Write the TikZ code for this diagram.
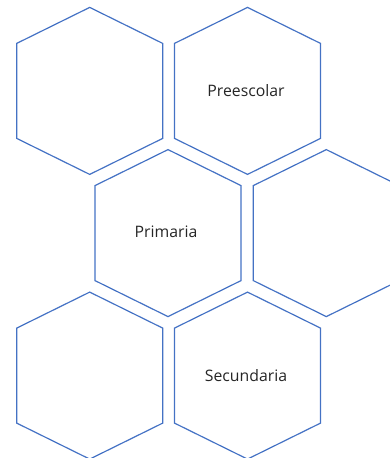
\documentclass[tikz,border=0pt]{standalone}
\usepackage{fontspec}
\setmainfont{Open Sans}
\usepackage{xcolor}
\usetikzlibrary{calc}
\definecolor{hexblue}{HTML}{4472C4}

\begin{document}
\begin{tikzpicture}[x=1pt, y=-1pt,
    hexline/.style={draw=hexblue, line width=1.2pt, line join=miter},
    hexlabel/.style={font=\fontsize{15.8}{18}\selectfont, text=black!85}]
  \clip (0,0) rectangle (390,458);
  % cell centres
  \coordinate (C1) at (89.7,90.8);
  \coordinate (C2) at (247.5,90.8);
  \coordinate (C3) at (168,233);
  \coordinate (C4) at (326.3,233);
  \coordinate (C5) at (89.7,375.5);
  \coordinate (C6) at (247.5,375.5);
  \foreach \c in {C1,C2,C3,C4,C5,C6} {
    \draw[hexline] ($(\c)+(0,-83.4)$) -- ++(73,36) -- ++(0,95)
      -- ++(-73,36) -- ++(-73,-36) -- ++(0,-95) -- cycle;
  }
  \node[hexlabel] (pre) at ($(C2)+(-1.5,-0.5)$) {Preescolar};
  \node[hexlabel] (pri) at ($(C3)+(-2,-1)$) {Primaria};
  \node[hexlabel] (sec) at ($(C6)+(-1.5,0)$) {Secundaria};
\end{tikzpicture}
\end{document}
